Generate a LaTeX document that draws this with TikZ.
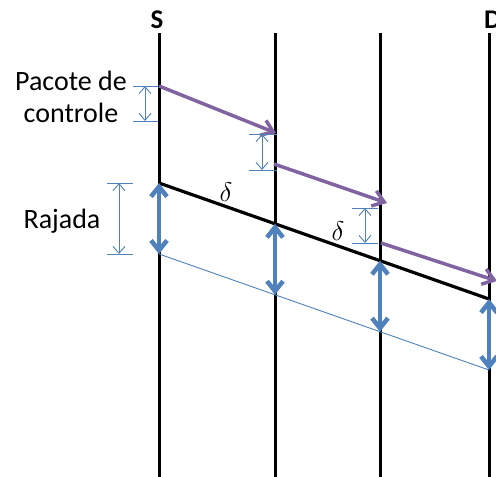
\documentclass[tikz,border=0pt]{standalone}
\usepackage{fontspec}
\setmainfont{Carlito}
\usetikzlibrary{arrows.meta}
\definecolor{oblue}{HTML}{4F81BD}
\definecolor{opurple}{HTML}{8064A2}
\begin{document}
\begin{tikzpicture}[x=1pt,y=-1pt,
  timeline/.style={line width=3pt, black},
  windowline/.style={line width=3.2pt, black},
  lowline/.style={line width=0.9pt, oblue},
  bigarrow/.style={line width=4.5pt, oblue, {Straight Barb[length=10pt,width=16pt]}-{Straight Barb[length=10pt,width=16pt]}},
  pkt/.style={line width=3.5pt, opurple, -{Straight Barb[length=11pt,width=16pt]}},
  tick/.style={line width=0.9pt, oblue},
  dimarrow/.style={line width=0.9pt, oblue, {Straight Barb[length=7pt,width=12pt]}-{Straight Barb[length=7pt,width=12pt]}},
  lbl/.style={font=\fontsize{28}{33}\selectfont, inner sep=0pt, anchor=base},
  host/.style={font=\fontsize{27}{32}\selectfont\bfseries, inner sep=0pt, anchor=base},
  dlt/.style={font=\fontsize{20}{24}\selectfont, inner sep=0pt, scale=1.3}
  ]
\useasboundingbox (0,0) rectangle (496,477);
% time lines
\coordinate (s1) at (159,33);  \coordinate (s2) at (159,477);
\coordinate (r1a) at (275,33); \coordinate (r1b) at (275,477);
\coordinate (r2a) at (380,33); \coordinate (r2b) at (380,477);
\coordinate (d1) at (489,33);  \coordinate (d2) at (489,477);
\draw[timeline] (s1) -- (s2);
\draw[timeline] (r1a) -- (r1b);
\draw[timeline] (r2a) -- (r2b);
\draw[timeline] (d1) -- (d2);
\node[host] (S) at (157,28) {S};
\node[host, anchor=base west] (D) at (484,28) {D};
% window (black) line and lower blue line
\coordinate (w1) at (159,183); \coordinate (w2) at (275,223.8);
\coordinate (w3) at (380,260.7); \coordinate (w4) at (489,299);
\coordinate (l1) at (159,254); \coordinate (l2) at (275,294.8);
\coordinate (l3) at (380,331.7); \coordinate (l4) at (489,370);
\draw[windowline] (w1) -- (w4);
\draw[lowline] (l1) -- (l4);
\draw[bigarrow] (w1) -- (l1);
\draw[bigarrow] (w2) -- (l2);
\draw[bigarrow] (w3) -- (l3);
\draw[bigarrow] (w4) -- (l4);
\node[dlt] (dl1) at (226,192) {$\delta$};
\node[dlt] (dl2) at (338,231.5) {$\delta$};
% control packets
\coordinate (p1a) at (159,86);  \coordinate (p1b) at (276,133);
\coordinate (p2a) at (274,164); \coordinate (p2b) at (387,203);
\coordinate (p3a) at (381,243); \coordinate (p3b) at (497,281);
\draw[pkt] (p1a) -- (p1b);
\draw[pkt] (p2a) -- (p2b);
\draw[pkt] (p3a) -- (p3b);
% dimension marks
\coordinate (t1a) at (133,86);  \coordinate (t1b) at (158,86);
\coordinate (t1c) at (133,121); \coordinate (t1d) at (158,121);
\coordinate (v1a) at (145,86);  \coordinate (v1b) at (145,121);
\draw[tick] (t1a) -- (t1b); \draw[tick] (t1c) -- (t1d);
\draw[dimarrow] (v1a) -- (v1b);
\coordinate (t2a) at (249,134); \coordinate (t2b) at (277,134);
\coordinate (t2c) at (249,170); \coordinate (t2d) at (277,170);
\coordinate (v2a) at (262,134); \coordinate (v2b) at (262,170);
\draw[tick] (t2a) -- (t2b); \draw[tick] (t2c) -- (t2d);
\draw[dimarrow] (v2a) -- (v2b);
\coordinate (t3a) at (352,208); \coordinate (t3b) at (378,208);
\coordinate (t3c) at (352,243); \coordinate (t3d) at (378,243);
\coordinate (v3a) at (365,208); \coordinate (v3b) at (365,243);
\draw[tick] (t3a) -- (t3b); \draw[tick] (t3c) -- (t3d);
\draw[dimarrow] (v3a) -- (v3b);
\coordinate (t4a) at (107,183); \coordinate (t4b) at (133,183);
\coordinate (t4c) at (107,254); \coordinate (t4d) at (133,254);
\coordinate (v4a) at (119,183); \coordinate (v4b) at (119,254);
\draw[tick] (t4a) -- (t4b); \draw[tick] (t4c) -- (t4d);
\draw[dimarrow] (v4a) -- (v4b);
% labels
\node[lbl] (pc1) at (71,90) {Pacote de};
\node[lbl] (pc2) at (71,122) {controle};
\node[lbl] (raj) at (62,228) {Rajada};
\end{tikzpicture}
\end{document}
